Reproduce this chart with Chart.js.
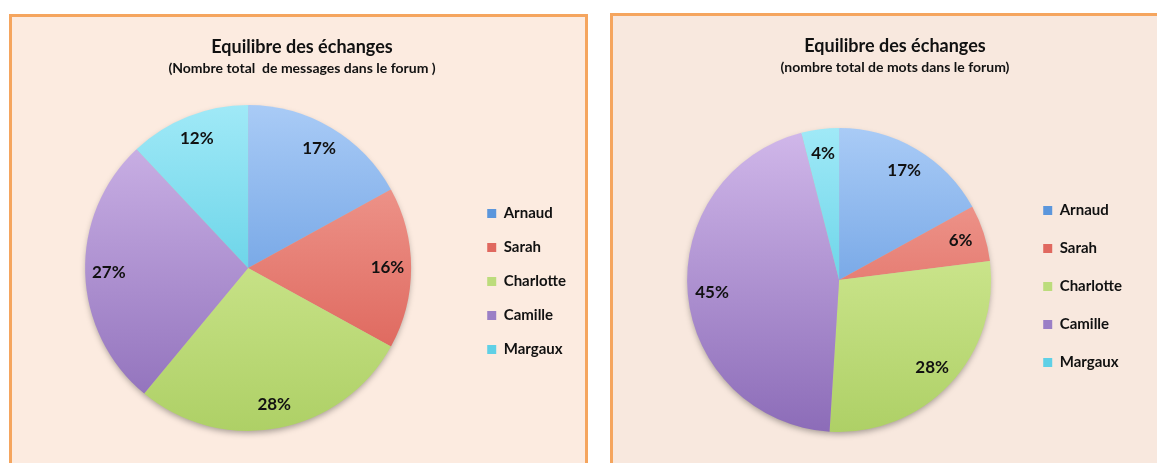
<!DOCTYPE html>
<html lang="fr">
<head>
  <meta charset="UTF-8" />
  <title>Equilibre des échanges</title>
  <script src="https://cdn.jsdelivr.net/npm/chart.js"></script>
  <style>
    body {
      margin: 0;
      background: #ffffff;
      width: 1157px;
      height: 463px;
      overflow: hidden;
      position: relative;
      font-family: Lato, 'Open Sans', sans-serif;
    }
    .panel {
      position: absolute;
      border: 3px solid #f5a55e;
      box-sizing: content-box;
    }
    #panelMessages {
      left: 9px;
      top: 14px;
      width: 573px;
      height: 460px;
      background: #fcebe0;
    }
    #panelMots {
      left: 610px;
      top: 13px;
      width: 560px;
      height: 460px;
      background: #f8e8de;
    }
    canvas { display: block; }
  </style>
</head>
<body>
  <div class="panel" id="panelMessages">
    <canvas id="chartMessages" width="573" height="446"></canvas>
  </div>
  <div class="panel" id="panelMots">
    <canvas id="chartMots" width="520" height="447"></canvas>
  </div>

  <script>
    const participants = ['Arnaud', 'Sarah', 'Charlotte', 'Camille', 'Margaux'];
    const messagesPct = [17, 16, 28, 27, 12];
    const motsPct = [17, 6, 28, 45, 4];

    // light (top) / dark (bottom) shades per slice
    const lightColors = ['#a9cbf6', '#f4a79d', '#dff3a6', '#d1b8ea', '#a0e9f7'];
    const darkColors  = ['#4b88d8', '#d8554b', '#aed066', '#8c6cb8', '#3cc2db'];
    const legendColors = ['#5b96dc', '#e0685f', '#bcdc7c', '#9b7fc6', '#5fd0e6'];

    const FONT = "Lato, 'Open Sans', sans-serif";

    function sliceGradient(context) {
      const i = context.dataIndex;
      const chart = context.chart;
      const area = chart.chartArea;
      if (!area) return legendColors[i];
      const g = chart.ctx.createLinearGradient(0, area.top, 0, area.bottom);
      g.addColorStop(0, lightColors[i]);
      g.addColorStop(1, darkColors[i]);
      return g;
    }

    // soft shadow under the pie
    const pieShadow = {
      id: 'pieShadow',
      beforeDatasetsDraw(chart) {
        const arc = chart.getDatasetMeta(0).data[0];
        if (!arc) return;
        const ctx = chart.ctx;
        ctx.save();
        ctx.shadowColor = 'rgba(0,0,0,0.35)';
        ctx.shadowBlur = 6;
        ctx.shadowOffsetY = 3;
        ctx.fillStyle = '#c8b8a8';
        ctx.beginPath();
        ctx.arc(arc.x, arc.y, arc.outerRadius - 1, 0, Math.PI * 2);
        ctx.fill();
        ctx.restore();
      }
    };

    // percentage text inside each slice
    const sliceLabels = {
      id: 'sliceLabels',
      afterDatasetsDraw(chart, args, opts) {
        const ctx = chart.ctx;
        const values = chart.data.datasets[0].data;
        ctx.save();
        ctx.font = 'bold 17px ' + FONT;
        ctx.fillStyle = '#111111';
        ctx.textAlign = 'center';
        ctx.textBaseline = 'middle';
        chart.getDatasetMeta(0).data.forEach((arc, i) => {
          const p = arc.getProps(['x', 'y', 'startAngle', 'endAngle', 'outerRadius'], true);
          const mid = (p.startAngle + p.endAngle) / 2;
          const r = p.outerRadius * opts.factor;
          ctx.fillText(values[i] + '%', p.x + Math.cos(mid) * r, p.y + Math.sin(mid) * r);
        });
        ctx.restore();
      }
    };

    function makePie(canvasId, values, subtitle, cfg) {
      return new Chart(document.getElementById(canvasId), {
        type: 'pie',
        data: {
          labels: participants,
          datasets: [{
            data: values,
            backgroundColor: sliceGradient,
            borderWidth: 0
          }]
        },
        options: {
          responsive: false,
          animation: false,
          layout: { padding: cfg.padding },
          plugins: {
            title: {
              display: true,
              text: 'Equilibre des échanges',
              color: '#111',
              font: { family: FONT, size: 18, weight: 'bold', lineHeight: 1.2 },
              padding: { top: 19, bottom: 0 }
            },
            subtitle: {
              display: true,
              text: subtitle,
              color: '#111',
              font: { family: FONT, size: 14, weight: 'bold', lineHeight: 1.1 },
              padding: cfg.subPadding
            },
            legend: {
              position: 'right',
              align: 'center',
              title: {
                display: true,
                text: '',
                font: { size: 10, lineHeight: 1 },
                padding: { top: cfg.legendShift, bottom: 0 }
              },
              labels: {
                boxWidth: 9,
                boxHeight: 9,
                padding: cfg.legendGap,
                color: '#111',
                font: { family: FONT, size: 15, weight: 'bold' },
                generateLabels(chart) {
                  return participants.map((name, i) => ({
                    text: name,
                    fillStyle: legendColors[i],
                    strokeStyle: legendColors[i],
                    fontColor: '#111111',
                    lineWidth: 0,
                    hidden: false,
                    index: i
                  }));
                }
              }
            },
            tooltip: { enabled: false },
            sliceLabels: { factor: cfg.labelFactor }
          }
        },
        plugins: [pieShadow, sliceLabels]
      });
    }

    makePie('chartMessages', messagesPct, '(Nombre total  de messages dans le forum )', {
      padding: { left: 16, right: 9, top: 0, bottom: 32 },
      subPadding: { top: 3, bottom: 29 },
      legendGap: 19,
      legendShift: 105,
      labelFactor: 0.855
    });

    makePie('chartMots', motsPct, '(nombre total de mots dans le forum)', {
      padding: { left: 45, right: 1, top: 0, bottom: 31 },
      subPadding: { top: 3, bottom: 53 },
      legendGap: 23,
      legendShift: 115,
      labelFactor: 0.84
    });
  </script>
</body>
</html>
